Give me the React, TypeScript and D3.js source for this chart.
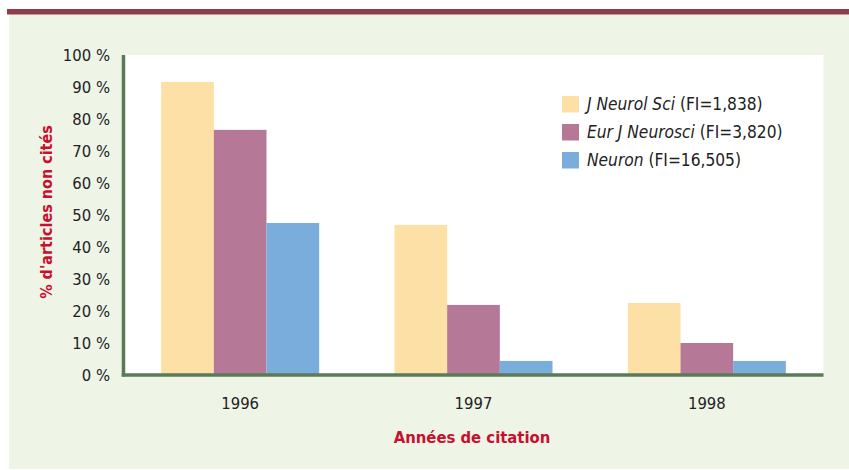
import React from "react";
import * as d3 from "d3";

const years = ["1996", "1997", "1998"];
const seriesNames = ["J Neurol Sci", "Eur J Neurosci", "Neuron"];
const seriesFI = ["(FI=1,838)", "(FI=3,820)", "(FI=16,505)"];
const jNeurolSci = [91.6, 46.9, 22.5];
const eurJNeurosci = [76.6, 21.9, 10.0];
const neuron = [47.5, 4.4, 4.4];
const yTicks = [0, 10, 20, 30, 40, 50, 60, 70, 80, 90, 100];
const colors = ["#fde0a5", "#b57896", "#7aaddc"];

const W = 849;
const H = 470;
const FONT = "'DejaVu Sans Condensed', 'Liberation Sans Narrow', 'DejaVu Sans', sans-serif";

export default function App() {
  const values = [jNeurolSci, eurJNeurosci, neuron];
  const plotL = 123.5;
  const plotR = 823.5;
  const plotT = 55;
  const plotB = 375;

  const x0 = d3.scaleBand<string>().domain(years).range([plotL, plotR]).padding(0);
  const groupW = 158;
  const x1 = d3.scaleBand<string>().domain(seriesNames).range([0, groupW]).padding(0);
  const y = d3.scaleLinear().domain([0, 100]).range([plotB, plotT]);

  return (
    <svg
      width={W}
      height={H}
      style={{ position: "absolute", left: 0, top: 0, display: "block" }}
    >
      <rect x={9} y={14} width={W - 9} height={455} fill="#eef4e6" />
      <rect x={7} y={9} width={W - 7} height={5.5} fill="#8f3d4b" />
      <rect x={plotL} y={plotT} width={plotR - plotL} height={plotB - plotT} fill="#ffffff" />

      {years.map((yr, i) => {
        const gx = (x0(yr) as number) + (x0.bandwidth() - groupW) / 2;
        return (
          <g key={yr}>
            {seriesNames.map((s, j) => (
              <rect
                key={s}
                x={gx + (x1(s) as number)}
                y={y(values[j][i])}
                width={x1.bandwidth()}
                height={plotB - y(values[j][i])}
                fill={colors[j]}
              />
            ))}
            <text
              x={(x0(yr) as number) + x0.bandwidth() / 2}
              y={409}
              textAnchor="middle"
              fontFamily={FONT}
              fontSize={16.5}
              fill="#222"
            >
              {yr}
            </text>
          </g>
        );
      })}

      {/* axes */}
      <line x1={plotL} x2={plotL} y1={plotT} y2={plotB + 1.5} stroke="#5b7a58" strokeWidth={3.5} />
      <line x1={plotL - 1.75} x2={plotR} y1={plotB} y2={plotB} stroke="#5b7a58" strokeWidth={3.5} />

      {yTicks.map((t) => (
        <text
          key={t}
          x={110}
          y={y(t)}
          dy="0.36em"
          textAnchor="end"
          fontFamily={FONT}
          fontSize={16.5}
          fill="#222"
        >
          {`${t} %`}
        </text>
      ))}

      <text
        transform={`translate(52,212) rotate(-90)`}
        textAnchor="middle"
        fontFamily={FONT}
        fontWeight="bold"
        fontSize={16}
        fill="#c8102e"
      >
        % d'articles non cités
      </text>

      <text
        x={472}
        y={443}
        textAnchor="middle"
        fontFamily={FONT}
        fontWeight="bold"
        fontSize={16.5}
        fill="#c8102e"
      >
        Années de citation
      </text>

      {seriesNames.map((s, j) => (
        <g key={s} transform={`translate(562,${96 + j * 28})`}>
          <rect x={0} y={0} width={17} height={16.5} fill={colors[j]} />
          <text x={25} y={8.25} dy="0.36em" fontFamily={FONT} fontSize={17.2} fill="#222">
            <tspan fontStyle="italic">{s}</tspan>
            <tspan> {seriesFI[j]}</tspan>
          </text>
        </g>
      ))}
    </svg>
  );
}
